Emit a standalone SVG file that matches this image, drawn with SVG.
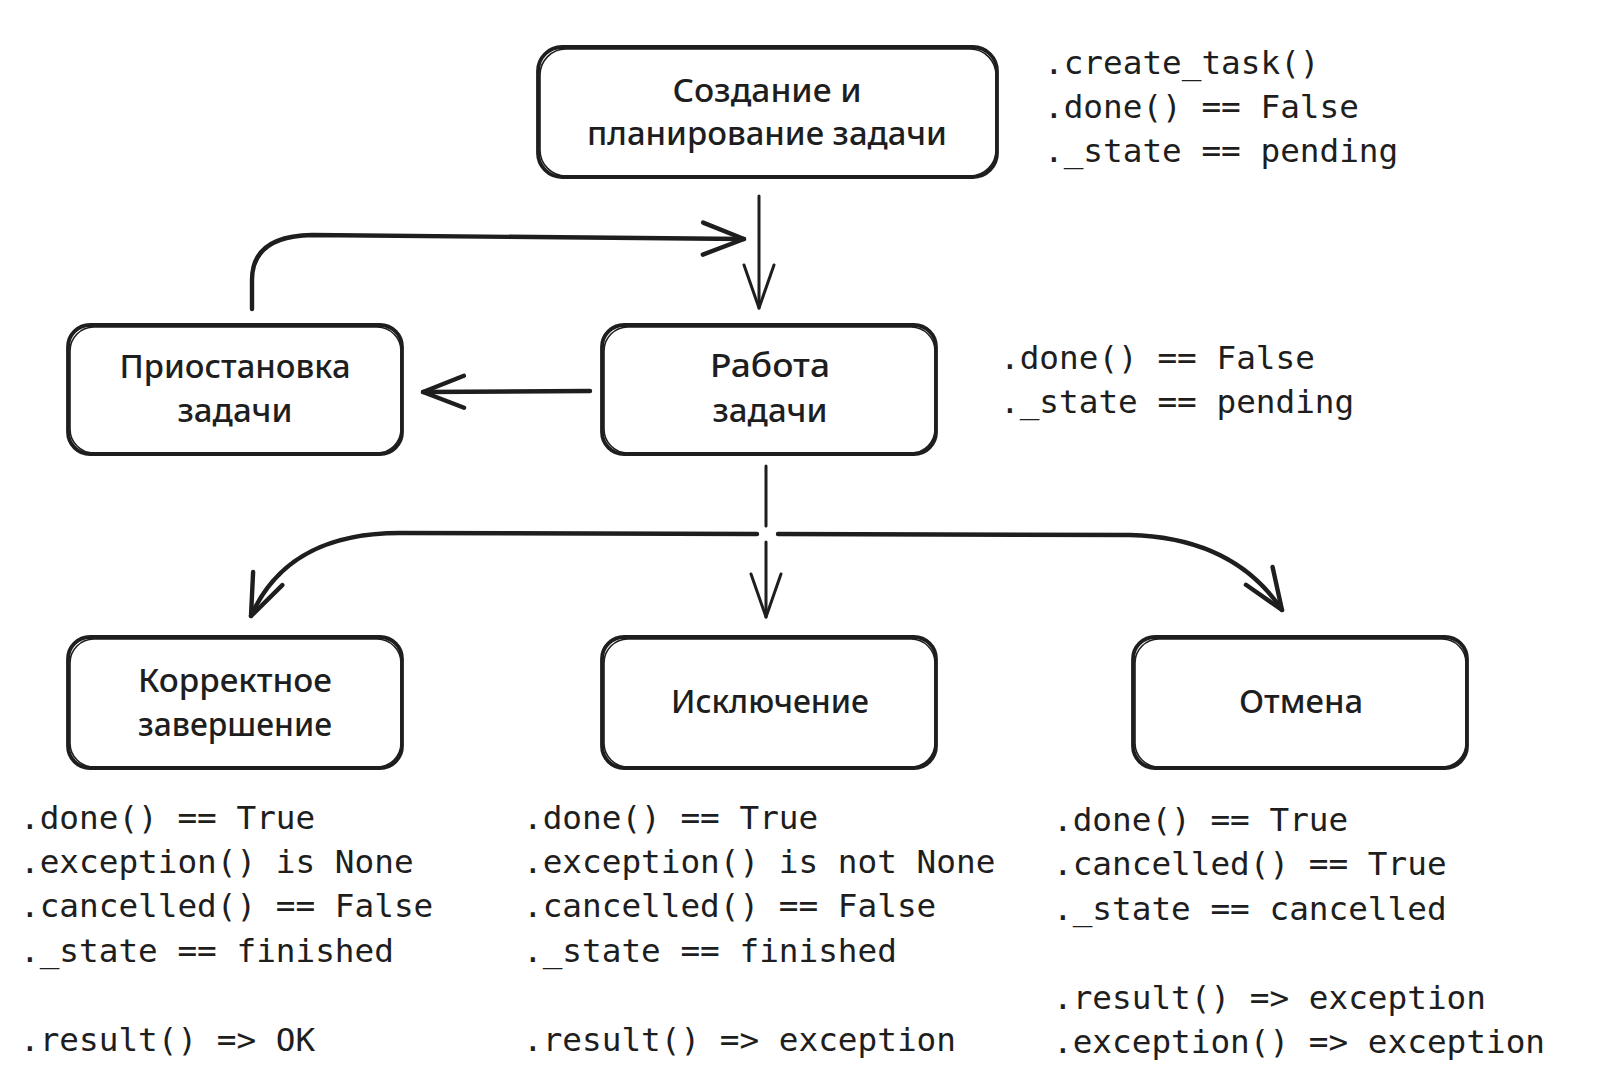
<svg xmlns="http://www.w3.org/2000/svg" width="1612" height="1086" viewBox="0 0 1612 1086">
<style>
.box{fill:#ffffff;stroke:#1e1e1e;stroke-width:3.8;stroke-linejoin:round}
.box2{fill:none;stroke:#1e1e1e;stroke-width:1.6}
.lbl{font-family:"Noto Sans","DejaVu Sans",sans-serif;font-size:32px;font-weight:500;fill:#1e1e1e;text-anchor:middle}
.code{font-family:"DejaVu Sans Mono","Liberation Mono",monospace;font-size:32.7px;fill:#1e1e1e}
.thick{fill:none;stroke:#1e1e1e;stroke-width:4.4;stroke-linecap:round;stroke-linejoin:round}
.thin{fill:none;stroke:#1e1e1e;stroke-width:3;stroke-linecap:round;stroke-linejoin:round}
</style>
<defs>
<marker id="ahThick" markerUnits="userSpaceOnUse" viewBox="-50 -20 55 40" refX="0" refY="0" markerWidth="55" markerHeight="40" orient="auto" overflow="visible">
<path d="M -41 -16 L 0 0 L -41 16" fill="none" stroke="#1e1e1e" stroke-width="4.4" stroke-linecap="round" stroke-linejoin="round"/>
</marker>
<marker id="ahThin" markerUnits="userSpaceOnUse" viewBox="-50 -20 55 40" refX="0" refY="0" markerWidth="55" markerHeight="40" orient="auto" overflow="visible">
<path d="M -43 -15 L 0 0 L -43 15" fill="none" stroke="#1e1e1e" stroke-width="3" stroke-linecap="round" stroke-linejoin="round"/>
</marker>
</defs>

<g id="connectors">
<path class="thin" d="M 759 196 L 759 308" marker-end="url(#ahThin)"/>
<path class="thick" d="M 252 309 L 252 280 Q 252 236 312 235 L 744 239" marker-end="url(#ahThick)"/>
<path class="thick" d="M 590 391 L 423 392" marker-end="url(#ahThick)"/>
<path class="thin" d="M 766 466 L 766 526"/>
<path class="thin" d="M 766 542 L 766 617" marker-end="url(#ahThin)"/>
<path class="thick" d="M 757 534 L 400 533 C 325 533 276 560 251 616" marker-end="url(#ahThick)"/>
<path class="thick" d="M 778 534 L 1130 535 C 1205 537 1252 565 1282 610" marker-end="url(#ahThick)"/>
</g>

<g id="node-create">
<rect class="box" x="538" y="47" width="459" height="130" rx="24"/>
<rect class="box2" x="540" y="49" width="456" height="127" rx="26"/>
<text class="lbl" x="767" y="102" textLength="189" lengthAdjust="spacingAndGlyphs">Создание и</text>
<text class="lbl" x="767" y="145" textLength="360" lengthAdjust="spacingAndGlyphs">планирование задачи</text>
</g>

<g id="node-suspend">
<rect class="box" x="68" y="325" width="334" height="129" rx="22"/>
<rect class="box2" x="70" y="327" width="331" height="126" rx="24"/>
<text class="lbl" x="235" y="378" textLength="231" lengthAdjust="spacingAndGlyphs">Приостановка</text>
<text class="lbl" x="235" y="422" textLength="115" lengthAdjust="spacingAndGlyphs">задачи</text>
</g>

<g id="node-run">
<rect class="box" x="602" y="325" width="334" height="129" rx="22"/>
<rect class="box2" x="604" y="327" width="331" height="126" rx="24"/>
<text class="lbl" x="770" y="377" textLength="120" lengthAdjust="spacingAndGlyphs">Работа</text>
<text class="lbl" x="770" y="422" textLength="115" lengthAdjust="spacingAndGlyphs">задачи</text>
</g>

<g id="node-ok">
<rect class="box" x="68" y="637" width="334" height="131" rx="22"/>
<rect class="box2" x="70" y="639" width="331" height="128" rx="24"/>
<text class="lbl" x="235" y="692" textLength="194" lengthAdjust="spacingAndGlyphs">Корректное</text>
<text class="lbl" x="235" y="736" textLength="194" lengthAdjust="spacingAndGlyphs">завершение</text>
</g>

<g id="node-exception">
<rect class="box" x="602" y="637" width="334" height="131" rx="22"/>
<rect class="box2" x="604" y="639" width="331" height="128" rx="24"/>
<text class="lbl" x="770" y="713" textLength="198" lengthAdjust="spacingAndGlyphs">Исключение</text>
</g>

<g id="node-cancel">
<rect class="box" x="1133" y="637" width="334" height="131" rx="22"/>
<rect class="box2" x="1135" y="639" width="331" height="128" rx="24"/>
<text class="lbl" x="1301" y="713" textLength="124" lengthAdjust="spacingAndGlyphs">Отмена</text>
</g>

<g id="notes-create">
<text class="code" x="1044" y="74">.create_task()</text>
<text class="code" x="1044" y="118">.done() == False</text>
<text class="code" x="1044" y="162">._state == pending</text>
</g>

<g id="notes-run">
<text class="code" x="1000" y="369">.done() == False</text>
<text class="code" x="1000" y="413">._state == pending</text>
</g>

<g id="notes-ok">
<text class="code" x="20" y="829">.done() == True</text>
<text class="code" x="20" y="873">.exception() is None</text>
<text class="code" x="20" y="917">.cancelled() == False</text>
<text class="code" x="20" y="962">._state == finished</text>
<text class="code" x="20" y="1051">.result() =&gt; OK</text>
</g>

<g id="notes-exception">
<text class="code" x="523" y="829">.done() == True</text>
<text class="code" x="523" y="873">.exception() is not None</text>
<text class="code" x="523" y="917">.cancelled() == False</text>
<text class="code" x="523" y="962">._state == finished</text>
<text class="code" x="523" y="1051">.result() =&gt; exception</text>
</g>

<g id="notes-cancel">
<text class="code" x="1053" y="831">.done() == True</text>
<text class="code" x="1053" y="875">.cancelled() == True</text>
<text class="code" x="1053" y="920">._state == cancelled</text>
<text class="code" x="1053" y="1009">.result() =&gt; exception</text>
<text class="code" x="1053" y="1053">.exception() =&gt; exception</text>
</g>
</svg>
